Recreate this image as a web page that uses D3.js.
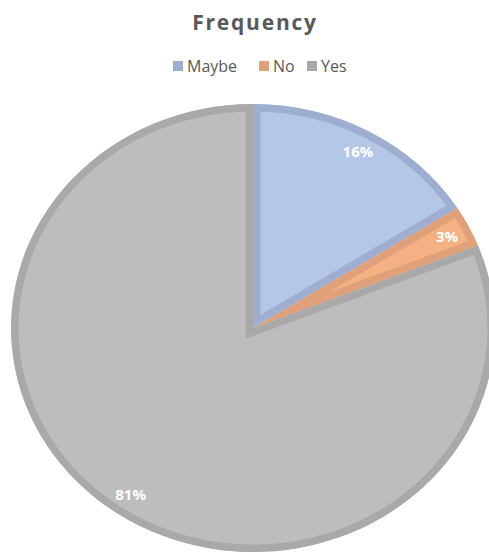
<!DOCTYPE html>
<html>
<head>
<meta charset="utf-8">
<title>Frequency</title>
<style>
body { margin: 0; background: #fff; }
text { font-family: "Open Sans", "Liberation Sans", sans-serif; }
</style>
</head>
<body>
<div id="graphic"></div>
<script src="https://d3js.org/d3.v7.min.js"></script>
<script>
var categories = ["Maybe", "No", "Yes"];
var values = [16, 3, 81];
var labels = ["16%", "3%", "81%"];
var fills = ["#b4c7e7", "#f4b183", "#bdbdbd"];
var borders = ["#9daed0", "#e0a079", "#a9a9a9"];

var w = 489, h = 553;
var cx = 253, cy = 328, rx = 242, ry = 224;

var svg = d3.select("#graphic").append("svg")
    .attr("width", w)
    .attr("height", h);

// title
svg.append("text")
    .attr("x", 255).attr("y", 30)
    .attr("text-anchor", "middle")
    .style("font-size", "21px")
    .style("font-weight", "bold")
    .style("letter-spacing", "1.8px")
    .attr("fill", "#595959")
    .text("Frequency");

// legend
var legendX = [173, 259, 307];
var legend = svg.append("g").selectAll("g")
    .data(categories)
    .enter().append("g")
    .attr("transform", function(d, i) { return "translate(" + legendX[i] + ",0)"; });
legend.append("rect")
    .attr("x", 0).attr("y", 61)
    .attr("width", 10).attr("height", 10)
    .attr("fill", function(d, i) { return borders[i]; });
legend.append("text")
    .attr("x", 14).attr("y", 72)
    .style("font-size", "16px")
    .attr("fill", "#595959")
    .text(function(d) { return d; });

// pie (unit circle scaled to an ellipse)
var pie = d3.pie().sort(null).value(function(d) { return d; });
var arcs = pie(values);
var R = 100;
var arc = d3.arc().innerRadius(0).outerRadius(R);

var g = svg.append("g")
    .attr("transform", "translate(" + cx + "," + cy + ") scale(" + (rx / R) + "," + (ry / R) + ")");

var defs = svg.append("defs");
arcs.forEach(function(a, i) {
    defs.append("clipPath").attr("id", "clip" + i)
        .append("path").attr("d", arc(a));
});

g.selectAll("path.slice")
    .data(arcs)
    .enter().append("path")
    .attr("class", "slice")
    .attr("d", arc)
    .attr("fill", function(d, i) { return fills[i]; })
    .attr("stroke", function(d, i) { return borders[i]; })
    .attr("stroke-width", 15)
    .attr("vector-effect", "non-scaling-stroke")
    .attr("clip-path", function(d, i) { return "url(#clip" + i + ")"; });

// data labels
var labelArc = d3.arc().innerRadius(R * 0.9).outerRadius(R * 0.9);
svg.append("g").selectAll("text")
    .data(arcs)
    .enter().append("text")
    .attr("x", function(d) { return cx + labelArc.centroid(d)[0] * rx / R; })
    .attr("y", function(d) { return cy + labelArc.centroid(d)[1] * ry / R; })
    .attr("text-anchor", "middle")
    .attr("dy", "0.35em")
    .style("font-size", "15px")
    .style("font-weight", "bold")
    .attr("fill", "#fff")
    .text(function(d, i) { return labels[i]; });
</script>
</body>
</html>
